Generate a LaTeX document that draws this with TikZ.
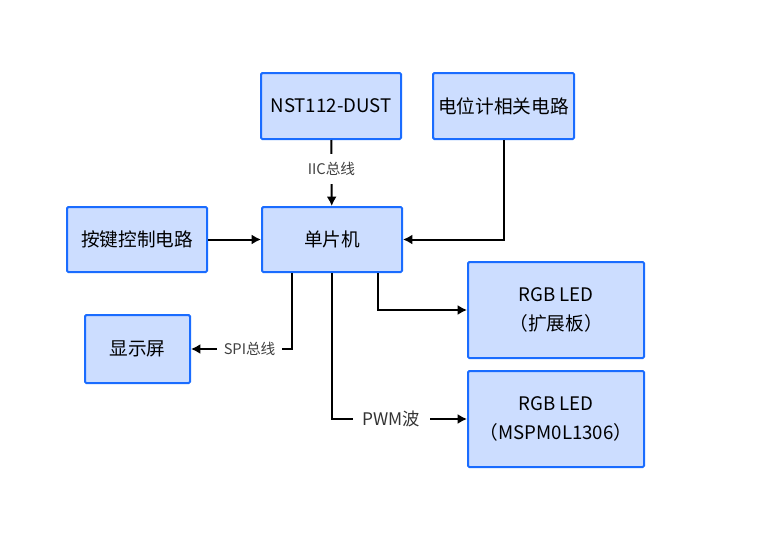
\documentclass[tikz,border=0pt]{standalone}
\usepackage{fontspec}
\setmainfont{Noto Sans CJK SC}
\usetikzlibrary{calc,arrows.meta}
\definecolor{boxfill}{HTML}{CCDDFF}
\definecolor{boxline}{HTML}{1A6CFF}
\begin{document}
\begin{tikzpicture}[x=0.75pt,y=-0.75pt,
    blk/.style={draw=boxline,fill=boxfill,line width=1.5pt,rounded corners=1pt,
      align=center,font=\fontsize{14}{22}\selectfont,inner sep=0pt},
    lbl/.style={fill=white,inner xsep=5pt,inner ysep=6pt,font=\fontsize{11}{13}\selectfont,text=black!75},
    lblb/.style={fill=white,inner xsep=7pt,inner ysep=4pt,font=\fontsize{13}{15}\selectfont,text=black!80},
    con/.style={line width=1.5pt,-{Latex[length=7pt,width=7.5pt]}}]
      \useasboundingbox (0,0) rectangle (766,539);
      \node[blk,minimum width=105pt,minimum height=49.5pt] (NST) at (331,106) {NST112-DUST};
      \node[blk,minimum width=105.75pt,minimum height=49.5pt] (POT) at (503.5,106) {电位计相关电路};
      \node[blk,minimum width=105pt,minimum height=48.75pt] (MCU) at (332,239.5) {单片机};
      \node[blk,minimum width=105pt,minimum height=48.75pt] (KEY) at (137,239.5) {按键控制电路};
      \node[blk,minimum width=78.75pt,minimum height=51pt] (LCD) at (137.5,349) {显示屏};
      \node[blk,minimum width=132pt,minimum height=72pt] (LED1) at (556,310) {RGB LED\\（扩展板）};
      \node[blk,minimum width=132pt,minimum height=72pt] (LED2) at (556,419) {RGB LED\\（MSPM0L1306）};

      \draw[con] (NST) -- node[lbl,pos=0.44] {IIC总线} (MCU);
      \draw[con] (KEY) -- (MCU);
      \draw[con] (POT.south) |- (MCU.east);
      \draw[con] (MCU.south -| 292,0) |- node[lbl,pos=0.71] {SPI总线} (LCD.east);
      \draw[con] (MCU.south -| 332,0) |- node[lblb,pos=0.72] {PWM波} (LED2.west);
      \draw[con] (MCU.south -| 378,0) |- (LED1.west);
  \end{tikzpicture}
\end{document}
